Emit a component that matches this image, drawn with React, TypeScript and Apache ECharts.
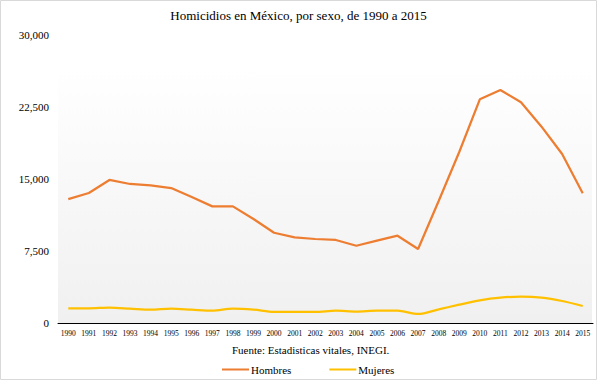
import React, { useEffect, useRef } from "react";
import * as echarts from "echarts";

const years = [
  "1990", "1991", "1992", "1993", "1994", "1995", "1996", "1997", "1998", "1999",
  "2000", "2001", "2002", "2003", "2004", "2005", "2006", "2007", "2008", "2009",
  "2010", "2011", "2012", "2013", "2014", "2015",
];
const hombres = [
  12900, 13540, 14900, 14480, 14340, 14060, 13125, 12150, 12150, 10830,
  9400, 8925, 8750, 8650, 8050, 8580, 9095, 7710, 12710, 17810,
  23300, 24270, 22990, 20450, 17600, 13510,
];
const mujeres = [
  1530, 1530, 1600, 1500, 1390, 1500, 1390, 1280, 1500, 1390,
  1150, 1150, 1150, 1280, 1180, 1280, 1280, 940, 1420, 1910,
  2360, 2640, 2740, 2640, 2290, 1770,
];
const titleText = "Homicidios en México, por sexo, de 1990 a 2015";
const sourceText = "Fuente: Estadisticas vitales, INEGI.";

const serif = "Liberation Serif";

export default function App() {
  const ref = useRef<HTMLDivElement>(null);
  useEffect(() => {
    document.body.style.margin = "0";
    const chart = echarts.init(ref.current!, null, { renderer: "svg" });
    chart.setOption({
      animation: false,
      backgroundColor: "#ffffff",
      textStyle: { fontFamily: serif },
      title: {
        text: titleText,
        left: "center",
        top: 4,
        textStyle: { fontFamily: serif, fontSize: 13, fontWeight: "normal", color: "#000" },
      },
      graphic: [
        {
          type: "rect",
          z: -10,
          shape: { x: 58, y: 68, width: 534, height: 255 },
          style: {
            fill: new echarts.graphic.LinearGradient(0, 0, 0, 1, [
              { offset: 0, color: "#ffffff" },
              { offset: 1, color: "#f0f0f0" },
            ]),
          },
        },
        {
          type: "rect",
          z: 100,
          shape: { x: 0.5, y: 0.5, width: 596, height: 379 },
          style: { fill: "none", stroke: "#d9d9d9", lineWidth: 1 },
        },
        {
          type: "text",
          left: 232,
          top: 344,
          style: { text: sourceText, fontFamily: serif, fontSize: 11, fill: "#000" },
        },
      ],
      legend: {
        bottom: 5,
        left: 222,
        padding: 0,
        itemWidth: 27,
        itemHeight: 2,
        itemGap: 38,
        icon: "rect",
        textStyle: { fontFamily: serif, fontSize: 11, color: "#000", padding: [0, 0, 0, -3] },
        data: ["Hombres", "Mujeres"],
      },
      grid: { left: 58, right: 4, top: 35, bottom: 57 },
      xAxis: {
        type: "category",
        data: years,
        boundaryGap: true,
        axisLine: { lineStyle: { color: "#000", width: 1 } },
        axisTick: { show: false },
        axisLabel: { fontFamily: serif, fontSize: 7.5, color: "#000", margin: 6, interval: 0 },
      },
      yAxis: {
        type: "value",
        min: 0,
        max: 30000,
        interval: 7500,
        splitLine: { show: false },
        axisLine: { show: false },
        axisTick: { show: false },
        axisLabel: {
          fontFamily: serif,
          fontSize: 11,
          color: "#000",
          margin: 9,
          formatter: (v: number) => v.toLocaleString("en-US"),
        },
      },
      series: [
        {
          name: "Hombres",
          type: "line",
          data: hombres,
          symbol: "none",
          lineStyle: { color: "#ED7D31", width: 2.25 },
          itemStyle: { color: "#ED7D31" },
        },
        {
          name: "Mujeres",
          type: "line",
          data: mujeres,
          symbol: "none",
          smooth: 0.3,
          lineStyle: { color: "#FFC000", width: 2.25 },
          itemStyle: { color: "#FFC000" },
        },
      ],
    });
    return () => chart.dispose();
  }, []);
  return <div ref={ref} style={{ width: 597, height: 380 }} />;
}
